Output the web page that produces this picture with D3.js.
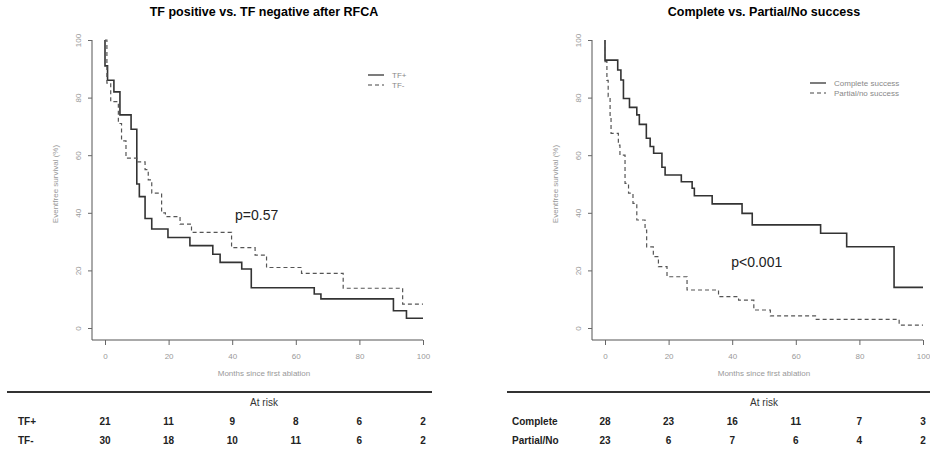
<!DOCTYPE html>
<html>
<head>
<meta charset="utf-8">
<script src="https://cdn.jsdelivr.net/npm/d3@7"></script>
<style>
  body { margin: 0; background: #fff; }
  text { font-family: "Liberation Sans", Arial, sans-serif; }
</style>
</head>
<body>
<svg id="chart" width="930" height="449"></svg>
<script>
// Kaplan-Meier steps: [month, survival %] after each drop
const tfPos = [[0,100],[0,91],[0.8,86],[2.8,82],[4.7,74],[8.2,69],[10,50],[10.8,45.6],[12.6,38],
  [14.7,34.4],[19.8,31.4],[26.7,28.6],[33.9,25.6],[36.2,22.8],[43,20.5],[46,14],[65.8,11.8],
  [67.9,10.1],[90.7,6],[94.8,3.4],[100,3.4]];
const tfNeg = [[0,100],[0.6,85],[1.8,78.6],[4.2,71],[5.2,65],[6.6,59],[10,57.7],[12.6,55],
  [13.6,51.4],[14.7,46.8],[17.8,40],[19,38.7],[23.6,36.1],[27.2,33.2],[39.8,27.9],[47.2,25.3],
  [50.8,21],[61.8,19],[74.9,13.8],[93.6,8.3],[100,8.3]];
const complete = [[0,100],[0,93],[4,89.6],[5,86.1],[5.8,79.7],[7.7,76.6],[10,74],[10.8,70.7],[13,65.9],
  [14.2,63],[15.3,60.7],[17.9,55.8],[18.9,53.1],[24,50.8],[27.4,48.5],[28.1,45.9],[33.7,43.1],
  [43.1,39.8],[46.3,35.8],[67.8,32.9],[76,28.2],[90.9,14.1],[100,14.1]];
const partial = [[0,100],[0,92.5],[0.6,86],[1,80.3],[1.6,73.4],[1.9,67.6],[4.2,63.5],[4.7,60],[6.3,50.2],
  [7.4,46.8],[8.8,43.3],[10,37.5],[12.6,34],[13.1,28.2],[15.2,24.8],[16.8,21.3],[19.5,17.8],
  [25.8,13.2],[35.7,10.9],[42,9.7],[46.8,6.25],[52,4.2],[66.2,3.0],[92.5,1.0],[100,1.0]];

const monthTicks = [0, 20, 40, 60, 80, 100];
const survTicks = [0, 20, 40, 60, 80, 100];

const panels = [
  { title: "TF positive vs. TF negative after RFCA", offset: 0, pText: "p=0.57", pAt: [40.9, 39.2],
    names: ["TF+", "TF-"], legend: ["TF+", "TF-"], series: [tfPos, tfNeg],
    risk: [[21, 11, 9, 8, 6, 2], [30, 18, 10, 11, 6, 2]],
    legendX: 368, legendY: 75, ruleL: 7, ruleR: 432, labelX: 18,
    xlabel: "Months since first ablation" },
  { title: "Complete vs. Partial/No success", offset: 500, pText: "p<0.001", pAt: [39.7, 22.9],
    names: ["Complete", "Partial/No"], legend: ["Complete success", "Partial/no success"],
    series: [complete, partial],
    risk: [[28, 23, 16, 11, 7, 3], [23, 6, 7, 6, 4, 2]],
    legendX: 810, legendY: 83, ruleL: 507, ruleR: 930, labelX: 512,
    xlabel: "Months since first ablation" }
];

const svg = d3.select("#chart");
const y = d3.scaleLinear().domain([0, 100]).range([328, 40]);

panels.forEach(p => {
  const x = d3.scaleLinear().domain([0, 100]).range([105 + p.offset, 423 + p.offset]);
  const yAxisX = 92 + p.offset;
  const g = svg.append("g");

  g.append("text")
    .attr("x", (x(0) + x(100)) / 2)
    .attr("y", 16)
    .attr("text-anchor", "middle")
    .attr("font-size", "12.5px")
    .attr("font-weight", "bold")
    .text(p.title);

  // L-shaped frame
  g.append("path")
    .attr("d", `M${yAxisX},40V340H${x(100)}`)
    .attr("fill", "none")
    .attr("stroke", "#555")
    .attr("stroke-width", 1);

  const xAxis = g.append("g")
    .attr("transform", "translate(0,340)")
    .call(d3.axisBottom(x).tickValues(monthTicks).tickSize(5).tickPadding(8));
  xAxis.select(".domain").remove();
  xAxis.selectAll("line").attr("stroke", "#666");
  xAxis.selectAll("text").attr("fill", "#999").attr("font-size", "8px");

  const yAxis = g.append("g")
    .attr("transform", `translate(${yAxisX},0)`)
    .call(d3.axisLeft(y).tickValues(survTicks).tickSize(4).tickPadding(0));
  yAxis.select(".domain").remove();
  yAxis.selectAll("line").attr("stroke", "#666");
  yAxis.selectAll("text")
    .attr("fill", "#999").attr("font-size", "8px")
    .attr("text-anchor", "middle")
    .attr("transform", "translate(-14,0) rotate(-90)")
    .attr("x", 0).attr("dy", "0.35em");

  g.append("text")
    .attr("transform", `translate(${yAxisX - 34},${y(50)}) rotate(-90)`)
    .attr("text-anchor", "middle")
    .attr("fill", "#999")
    .attr("font-size", "8px")
    .text("Eventfree survival (%)");

  g.append("text")
    .attr("x", (x(0) + x(100)) / 2)
    .attr("y", 376)
    .attr("text-anchor", "middle")
    .attr("fill", "#999")
    .attr("font-size", "8px")
    .text(p.xlabel);

  const line = d3.line()
    .curve(d3.curveStepAfter)
    .x(d => x(d[0]))
    .y(d => y(d[1]));

  p.series.forEach((s, i) => {
    g.append("path")
      .datum(s)
      .attr("d", line)
      .attr("fill", "none")
      .attr("stroke", i === 0 ? "#333" : "#555")
      .attr("stroke-width", i === 0 ? 1.6 : 1.2)
      .attr("stroke-dasharray", i === 0 ? null : "4,3");
  });

  // legend
  p.legend.forEach((name, i) => {
    const ly = p.legendY + i * 10;
    g.append("line")
      .attr("x1", p.legendX).attr("x2", p.legendX + 16)
      .attr("y1", ly).attr("y2", ly)
      .attr("stroke", "#444")
      .attr("stroke-width", i === 0 ? 1.4 : 1.1)
      .attr("stroke-dasharray", i === 0 ? null : "4,3");
    g.append("text")
      .attr("x", p.legendX + 24).attr("y", ly)
      .attr("dy", "0.35em")
      .attr("fill", "#888")
      .attr("font-size", "8px")
      .text(name);
  });

  g.append("text")
    .attr("x", x(p.pAt[0])).attr("y", y(p.pAt[1]))
    .attr("dy", "0.35em")
    .attr("fill", "#222")
    .attr("font-size", "14px")
    .text(p.pText);

  // at-risk table
  g.append("line")
    .attr("x1", p.ruleL).attr("x2", p.ruleR)
    .attr("y1", 392).attr("y2", 392)
    .attr("stroke", "#333")
    .attr("stroke-width", 2);

  g.append("text")
    .attr("x", (x(0) + x(100)) / 2)
    .attr("y", 402)
    .attr("dy", "0.35em")
    .attr("text-anchor", "middle")
    .attr("fill", "#333")
    .attr("font-size", "10px")
    .text("At risk");

  p.names.forEach((name, r) => {
    const ry = 421 + r * 19;
    g.append("text")
      .attr("x", p.labelX).attr("y", ry)
      .attr("dy", "0.35em")
      .attr("font-weight", "bold")
      .attr("fill", "#222")
      .attr("font-size", "10px")
      .text(name);
    g.selectAll(null)
      .data(p.risk[r])
      .join("text")
      .attr("x", (d, i) => x(monthTicks[i]))
      .attr("y", ry)
      .attr("dy", "0.35em")
      .attr("text-anchor", "middle")
      .attr("font-weight", "bold")
      .attr("fill", "#222")
      .attr("font-size", "10px")
      .text(d => d);
  });
});
</script>
</body>
</html>
